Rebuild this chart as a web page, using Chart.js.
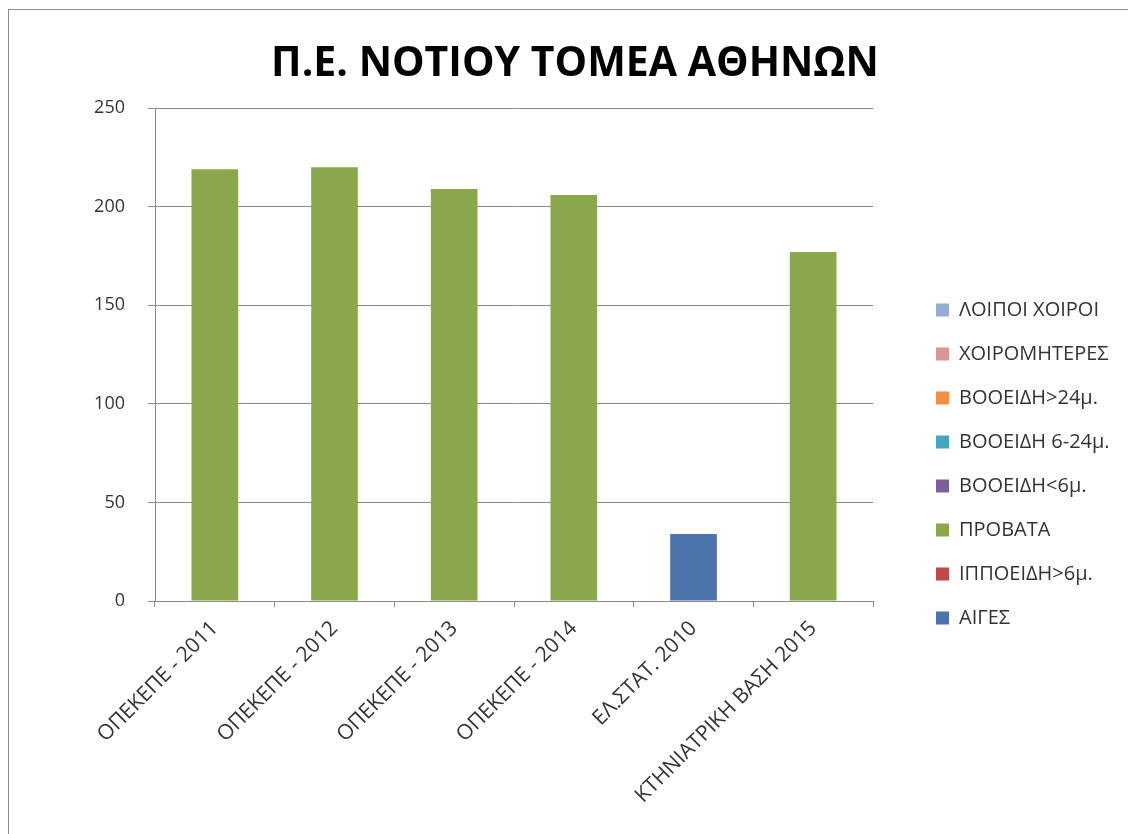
<!DOCTYPE html>
<html>
<head>
<meta charset="utf-8">
<script src="https://cdn.jsdelivr.net/npm/chart.js@4"></script>
<style>
	html, body { margin: 0; padding: 0; background: #fff; overflow: hidden; }
	#frame {
		position: absolute;
		left: 8px;
		top: 9px;
		width: 1134px;
		height: 840px;
		border: 1px solid #8c8c8c;
		box-sizing: border-box;
	}
	#chart { display: block; }
</style>
</head>
<body>
<div id="frame"><canvas id="chart" width="1132" height="838"></canvas></div>
<script>
const categories = ["ΟΠΕΚΕΠΕ - 2011", "ΟΠΕΚΕΠΕ - 2012", "ΟΠΕΚΕΠΕ - 2013", "ΟΠΕΚΕΠΕ - 2014", "ΕΛ.ΣΤΑΤ. 2010", "ΚΤΗΝΙΑΤΡΙΚΗ ΒΑΣΗ 2015"];

// stack order bottom -> top
const aiges = [0, 0, 0, 0, 34, 0];
const ippoeidi = [0, 0, 0, 0, 0, 0];
const provata = [219, 220, 209, 206, 0, 177];
const vooeidiUnder6 = [0, 0, 0, 0, 0, 0];
const vooeidi6to24 = [0, 0, 0, 0, 0, 0];
const vooeidiOver24 = [0, 0, 0, 0, 0, 0];
const xoiromiteres = [0, 0, 0, 0, 0, 0];
const loipoiXoiroi = [0, 0, 0, 0, 0, 0];

const yTicks = [0, 50, 100, 150, 200, 250];

const fontFamily = "'Open Sans', 'DejaVu Sans', sans-serif";
const textColor = "#333333";
const gridColor = "#8a8a8a";

function series(label, data, color) {
	return {
		label: label,
		data: data,
		backgroundColor: color,
		borderWidth: 0,
		barPercentage: 0.78,
		categoryPercentage: 0.5,
	};
}

const chartData = [
	series("ΑΙΓΕΣ", aiges, "#4a74ab"),
	series("ΙΠΠΟΕΙΔΗ>6μ.", ippoeidi, "#be4b48"),
	series("ΠΡΟΒΑΤΑ", provata, "#8aa74b"),
	series("ΒΟΟΕΙΔΗ<6μ.", vooeidiUnder6, "#7d5f9e"),
	series("ΒΟΟΕΙΔΗ 6-24μ.", vooeidi6to24, "#46a5be"),
	series("ΒΟΟΕΙΔΗ>24μ.", vooeidiOver24, "#f28f43"),
	series("ΧΟΙΡΟΜΗΤΕΡΕΣ", xoiromiteres, "#d99694"),
	series("ΛΟΙΠΟΙ ΧΟΙΡΟΙ", loipoiXoiroi, "#93acd2"),
];

Chart.defaults.font.family = fontFamily;
Chart.defaults.color = textColor;
Chart.defaults.responsive = false;
Chart.defaults.animation = false;

// legend sits well to the right of the plot, like the Excel original
const legendWidth = 268;
const legendShiftX = 39;
const legendShiftY = 35;

const legendPlacer = {
	id: "legendPlacer",
	beforeLayout: function (chart) {
		const lg = chart.legend;
		if (lg && !lg._placed) {
			const fit = lg.fit;
			lg.fit = function () {
				fit.call(this);
				this.width = legendWidth;
			};
			lg._placed = true;
		}
	},
	afterLayout: function (chart) {
		const lg = chart.legend;
		lg.left += legendShiftX;
		lg.right += legendShiftX;
		lg.top += legendShiftY;
		lg.bottom += legendShiftY;
	},
};

const ctx = document.getElementById("chart").getContext("2d");

var chart = new Chart(ctx, {
	type: "bar",
	data: {
		labels: categories,
		datasets: chartData,
	},
	plugins: [legendPlacer],
	options: {
		layout: {
			padding: 0,
		},
		plugins: {
			tooltip: { enabled: false },
			title: {
				display: true,
				text: "Π.Ε. ΝΟΤΙΟΥ ΤΟΜΕΑ ΑΘΗΝΩΝ",
				color: "#000",
				font: { size: 41, weight: "bold" },
				padding: { top: 30, bottom: 19 },
			},
			legend: {
				position: "right",
				reverse: true,
				labels: {
					boxWidth: 13,
					boxHeight: 13,
					padding: 24,
					color: textColor,
					font: { size: 20 },
				},
			},
		},
		scales: {
			x: {
				stacked: true,
				offset: true,
				afterFit: function (axis) {
					axis.height = 247;
				},
				grid: {
					display: true,
					drawOnChartArea: false,
					offset: true,
					color: gridColor,
					tickLength: 6,
				},
				border: { color: gridColor },
				ticks: {
					minRotation: 45,
					maxRotation: 45,
					color: textColor,
					font: { size: 21 },
					padding: 9,
				},
			},
			y: {
				stacked: true,
				min: 0,
				max: 250,
				afterFit: function (axis) {
					axis.width = 146;
				},
				afterBuildTicks: function (axis) {
					axis.ticks = yTicks.map(function (v) { return { value: v }; });
				},
				grid: {
					color: gridColor,
					tickLength: 7,
				},
				border: { color: gridColor },
				ticks: {
					color: textColor,
					font: { size: 18 },
					padding: 23,
				},
			},
		},
	},
});
</script>
</body>
</html>
